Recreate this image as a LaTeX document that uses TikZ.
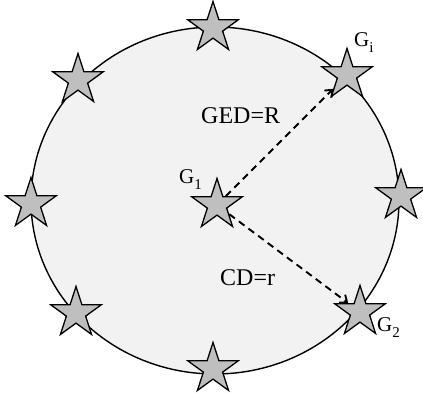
\documentclass[tikz,border=0pt]{standalone}
\usepackage{fontspec}
\setmainfont{Liberation Serif}
\usetikzlibrary{shapes.geometric, arrows.meta}

\tikzset{
  graphstar/.style={star, star points=5, star point ratio=2.618, minimum size=53pt,
    inner sep=0pt, draw=black, fill=black!25, line width=1.3pt},
  distarrow/.style={dash pattern=on 7pt off 5pt, line width=1.9pt,
    -{Straight Barb[length=6pt,width=10pt]}},
  distlabel/.style={anchor=base west, inner sep=0pt, font=\fontsize{24}{28}\selectfont},
  graphlabel/.style={anchor=base west, inner sep=0pt, font=\fontsize{21}{25}\selectfont},
}
\newcommand{\gidx}[1]{\raisebox{-6pt}{\fontsize{15}{15}\selectfont #1}}

\begin{document}
\begin{tikzpicture}[x=1pt, y=-1pt]
        \useasboundingbox (0,0) rectangle (423,392);

        % Umgebung um G1
        \draw[fill=black!5, line width=1.4pt] (215,200.5) ellipse [x radius=184, y radius=173.5];

        % Graphen auf dem Rand
        \node[graphstar] (top) at (213,28) {};
        \node[graphstar] (upleft) at (78,80) {};
        \node[graphstar] (left) at (31,204) {};
        \node[graphstar] (lowleft) at (76,313) {};
        \node[graphstar] (bottom) at (213,369) {};
        \node[graphstar] (right) at (401,196) {};
        \node[graphstar] (gi) at (347,75) {};
        \node[graphstar] (g2) at (360,312) {};

        % Zentraler Graph
        \node[graphstar] (g1) at (217,205) {};

        % Abstaende
        \draw[distarrow] (g1) -- (gi);
        \draw[distarrow] (g1) -- (g2);

        % Beschriftungen
        \node[graphlabel] (g1label) at (179,183) {G\gidx{1}};
        \node[graphlabel] (gilabel) at (354,46) {G\gidx{i}};
        \node[graphlabel] (g2label) at (377,331) {G\gidx{2}};
        \node[distlabel] (gedlabel) at (201,123) {GED=R};
        \node[distlabel] (cdlabel) at (220,285) {CD=r};

\end{tikzpicture}
\end{document}
